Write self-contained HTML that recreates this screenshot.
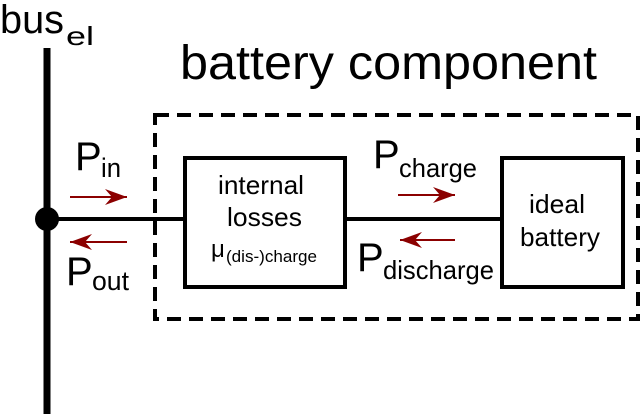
<!DOCTYPE html>
<html><head><meta charset="utf-8"><style>
body{margin:0;background:#fff;width:641px;height:414px;overflow:hidden}
</style></head><body>
<svg width="641" height="414" viewBox="0 0 641 414" xmlns="http://www.w3.org/2000/svg" font-family="Liberation Sans, sans-serif">
<line x1="47" y1="48" x2="47" y2="414" stroke="#000" stroke-width="7"/>
<circle cx="47" cy="219" r="12" fill="#000"/>
<line x1="47" y1="219" x2="184" y2="219" stroke="#000" stroke-width="4"/>
<line x1="346" y1="219" x2="502" y2="219" stroke="#000" stroke-width="4"/>
<rect x="155" y="115" width="483" height="204" fill="none" stroke="#000" stroke-width="4" stroke-dasharray="14,8"/>
<rect x="185" y="158" width="160" height="129" fill="#fff" stroke="#000" stroke-width="4"/>
<rect x="502" y="158" width="121" height="129" fill="#fff" stroke="#000" stroke-width="4"/>
<g stroke="#8b0000" stroke-width="2" fill="none">
<path d="M70,197 L127,197" /><path d="M105,189 L127,197 L105,205 L112,197Z" fill="#8b0000" stroke="none"/>
<path d="M127,242 L70,242" /><path d="M92,234 L70,242 L92,250 L85,242Z" fill="#8b0000" stroke="none"/>
<path d="M398,195 L455,195" /><path d="M433,187 L455,195 L433,203 L440,195Z" fill="#8b0000" stroke="none"/>
<path d="M455,240 L400,240" /><path d="M422,232 L400,240 L422,248 L415,240Z" fill="#8b0000" stroke="none"/>
</g>
<text x="0" y="33" font-size="40" textLength="64" lengthAdjust="spacingAndGlyphs">bus</text>
<text x="66" y="45" font-size="26" textLength="28" lengthAdjust="spacingAndGlyphs">el</text>
<text x="180" y="79" font-size="48" textLength="417" lengthAdjust="spacingAndGlyphs">battery component</text>
<text x="75" y="170" font-size="40">P</text><text x="101" y="177" font-size="27" textLength="20" lengthAdjust="spacingAndGlyphs">in</text>
<text x="66" y="285" font-size="40">P</text><text x="92" y="290" font-size="27" textLength="37" lengthAdjust="spacingAndGlyphs">out</text>
<text x="373" y="168" font-size="40">P</text><text x="399" y="177" font-size="26" textLength="78" lengthAdjust="spacingAndGlyphs">charge</text>
<text x="357" y="271" font-size="40">P</text><text x="383" y="279" font-size="26" textLength="111" lengthAdjust="spacingAndGlyphs">discharge</text>
<text x="218" y="194" font-size="26" textLength="86" lengthAdjust="spacingAndGlyphs">internal</text>
<text x="227" y="226" font-size="26" textLength="75" lengthAdjust="spacingAndGlyphs">losses</text>
<text x="211" y="257" font-size="24">μ</text><text x="226" y="262" font-size="17" textLength="91" lengthAdjust="spacingAndGlyphs">(dis-)charge</text>
<text x="529" y="213" font-size="26" textLength="56" lengthAdjust="spacingAndGlyphs">ideal</text>
<text x="520" y="246" font-size="26" textLength="80" lengthAdjust="spacingAndGlyphs">battery</text>
</svg>
</body></html>
